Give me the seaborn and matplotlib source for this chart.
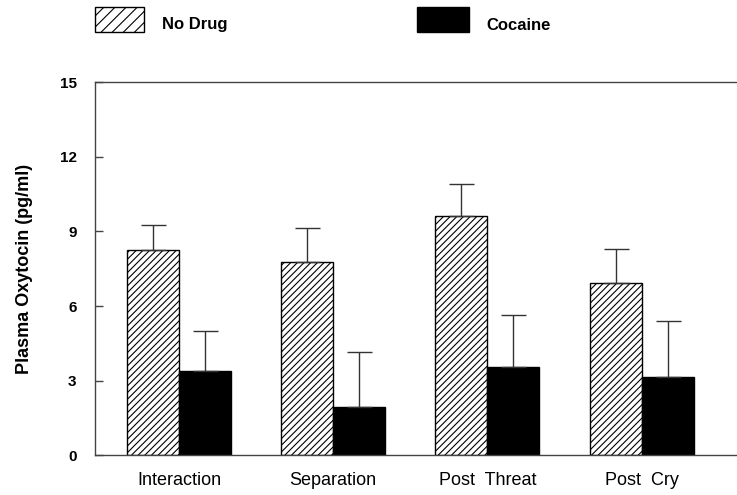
import matplotlib
matplotlib.use("Agg")
import matplotlib.pyplot as plt
from matplotlib.patches import Rectangle
import numpy as np
import pandas as pd
import seaborn as sns

categories = ["Interaction", "Separation", "Post  Threat", "Post  Cry"]
groups = ["No Drug", "Cocaine"]
no_drug = [8.25, 7.76, 9.62, 6.92]
no_drug_err = [1.01, 1.39, 1.27, 1.39]
cocaine = [3.41, 1.94, 3.57, 3.17]
cocaine_err = [1.59, 2.23, 2.06, 2.24]
y_ticks = [0, 3, 6, 9, 12, 15]

df = pd.DataFrame({
    "condition": categories * 2,
    "group": [groups[0]] * 4 + [groups[1]] * 4,
    "value": no_drug + cocaine,
})

sns.set_style("white")
plt.rcParams["font.family"] = ["Liberation Sans", "DejaVu Sans"]
plt.rcParams["hatch.linewidth"] = 0.8
plt.rcParams["text.color"] = "black"
plt.rcParams["axes.labelcolor"] = "black"
plt.rcParams["xtick.color"] = "black"
plt.rcParams["ytick.color"] = "black"

fig = plt.figure(figsize=(7.37, 4.95), dpi=100)
ax = fig.add_axes([0.1285, 0.0798, 0.878, 0.7545])

sns.barplot(data=df, x="condition", y="value", hue="group", order=categories,
            hue_order=groups, palette=["white", "black"], width=0.675,
            errorbar=None, edgecolor="black", linewidth=1.0, ax=ax, legend=False)

bar_conts = list(ax.containers[:2])
for bar in bar_conts[0]:
    bar.set_hatch("/////")

for cont, vals, errs in zip(bar_conts, [no_drug, cocaine], [no_drug_err, cocaine_err]):
    xs = [b.get_x() + b.get_width() / 2 for b in cont]
    ax.errorbar(xs, vals, yerr=[np.zeros(len(errs)), errs], fmt="none",
                ecolor="#333333", elinewidth=1.0, capsize=9, capthick=1.0, zorder=1)

ax.set_xlim(-0.547, 3.65)
ax.set_ylim(0, 15)
ax.set_yticks(y_ticks)
ax.set_yticklabels([str(t) for t in y_ticks], fontsize=11, fontweight="bold")
ax.tick_params(axis="y", direction="in", length=6, width=1, color="#444444", pad=13, left=True)
ax.tick_params(axis="x", length=0, pad=12, labelsize=13)
ax.set_xlabel("")
ax.set_ylabel("Plasma Oxytocin (pg/ml)", fontsize=13, fontweight="bold", labelpad=19)
for s in ax.spines.values():
    s.set_color("#444444")
    s.set_linewidth(1.0)

# legend drawn along the top, like the original
legend_specs = [
    (groups[0], 95, 49, "white", "///", 162),
    (groups[1], 417, 52, "black", "", 486),
]
W, H = 737.0, 495.0
for label, x0, w, fc, hatch, tx in legend_specs:
    fig.add_artist(Rectangle((x0 / W, (H - 32) / H), w / W, 25 / H,
                             transform=fig.transFigure, facecolor=fc,
                             edgecolor="black", linewidth=1.0, hatch=hatch))
    fig.text(tx / W, (H - 25) / H, label, fontsize=12, fontweight="bold",
             ha="left", va="center", color="black")

fig.savefig("out.png", dpi=100, facecolor="white")
